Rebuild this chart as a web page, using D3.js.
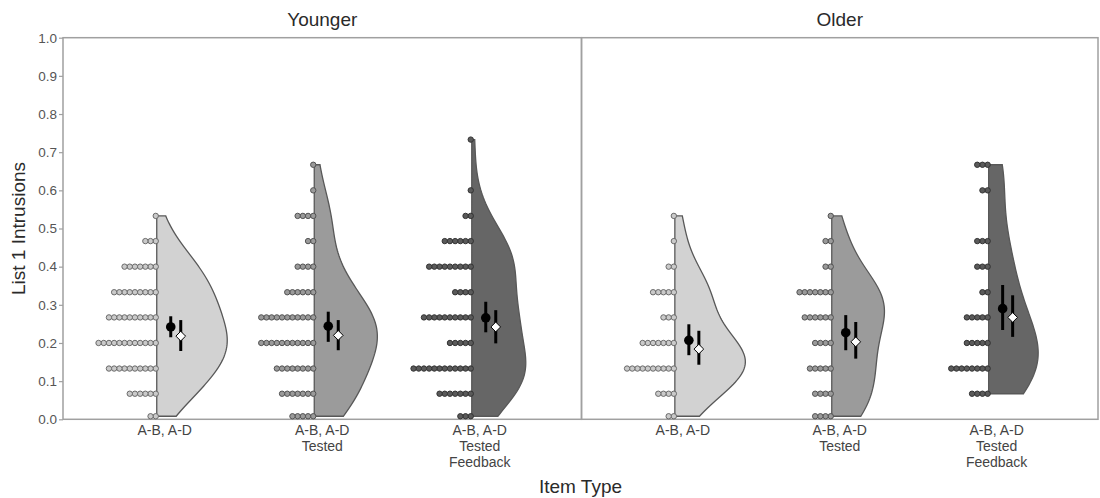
<!DOCTYPE html>
<html>
<head>
<meta charset="utf-8">
<script src="https://cdn.jsdelivr.net/npm/d3@7"></script>
<style>
  html, body { margin: 0; padding: 0; background: #fff; }
  svg { display: block; font-family: "Liberation Sans", Arial, sans-serif; }
</style>
</head>
<body>
<svg id="chart" width="1100" height="498"></svg>
<script>
// ---------- data ----------
const panels = ["Younger", "Older"];
const itemTypes = ["A-B, A-D", "A-B, A-D\nTested", "A-B, A-D\nTested\nFeedback"];
const yTicks = [0, 0.1, 0.2, 0.3, 0.4, 0.5, 0.6, 0.7, 0.8, 0.9, 1.0];

// score levels (proportion of list 1 intrusions)
const levels = [0.008, 0.067, 0.133, 0.2, 0.267, 0.333, 0.4, 0.467, 0.533, 0.6, 0.667, 0.733];

// number of participants at each level, per group
const youngerBasic    = [2, 6, 10, 12, 10, 9, 7, 3, 1, 0, 0, 0];
const youngerTested   = [5, 7, 8, 11, 11, 6, 4, 2, 4, 1, 1, 0];
const youngerFeedback = [3, 7, 12, 5, 10, 4, 9, 6, 2, 1, 0, 1];
const olderBasic      = [2, 4, 10, 7, 3, 5, 2, 1, 1, 0, 0, 0];
const olderTested     = [4, 4, 5, 4, 6, 7, 2, 2, 1, 0, 0, 0];
const olderFeedback   = [0, 4, 8, 5, 5, 2, 3, 3, 0, 2, 3, 0];

// summary statistics (black circle, white diamond) with intervals
const meanA = [0.242, 0.244, 0.266, 0.207, 0.227, 0.290];
const loA   = [0.215, 0.203, 0.228, 0.168, 0.181, 0.234];
const hiA   = [0.270, 0.282, 0.308, 0.249, 0.273, 0.352];
const meanB = [0.218, 0.220, 0.242, 0.184, 0.203, 0.267];
const loB   = [0.179, 0.181, 0.199, 0.143, 0.159, 0.216];
const hiB   = [0.260, 0.260, 0.286, 0.232, 0.255, 0.325];

// ---------- layout ----------
const svg = d3.select("#chart");
const plotTop = 37.7, plotBottom = 419.3;
const panelX = [63, 581.5, 1098];
const violinFill = ["#d2d2d2", "#9b9b9b", "#666666"];
const dotFill = ["#cacaca", "#9a9a9a", "#5a5a5a"];
const dotStroke = ["#6a6a6a", "#525252", "#333333"];

const y = d3.scaleLinear().domain([0, 1]).range([plotBottom, plotTop]);

const groups = [
  {panel: 0, type: 0, counts: youngerBasic},
  {panel: 0, type: 1, counts: youngerTested},
  {panel: 0, type: 2, counts: youngerFeedback},
  {panel: 1, type: 0, counts: olderBasic},
  {panel: 1, type: 1, counts: olderTested},
  {panel: 1, type: 2, counts: olderFeedback}
];

// kernel density (gaussian, Scott's rule), cut at data range
function kde(values) {
  const n = values.length;
  const sd = d3.deviation(values);
  const bw = sd * Math.pow(n, -0.2);
  const lo = d3.min(values), hi = d3.max(values);
  const grid = d3.range(101).map(i => lo + (hi - lo) * i / 100);
  return grid.map(v => {
    const s = d3.sum(values, d => Math.exp(-0.5 * ((v - d) / bw) ** 2));
    return {v, dens: s / (n * bw * Math.sqrt(2 * Math.PI))};
  });
}
groups.forEach(g => {
  g.values = [];
  g.counts.forEach((c, i) => { for (let k = 0; k < c; k++) g.values.push(levels[i]); });
  g.density = kde(g.values);
});
// width scale normalised within each panel (area scaling per facet)
const wScales = panels.map((p, pi) => {
  const m = d3.max(groups.filter(g => g.panel === pi), g => d3.max(g.density, d => d.dens));
  return d3.scaleLinear().domain([0, m]).range([0, 70.5]);
});

const xScales = panels.map((p, i) =>
  d3.scalePoint().domain(itemTypes).range([panelX[i], panelX[i + 1]]).padding(0.646));

// ---------- frames ----------
panels.forEach((p, i) => {
  svg.append("rect")
    .attr("x", panelX[i]).attr("y", plotTop)
    .attr("width", panelX[i + 1] - panelX[i]).attr("height", plotBottom - plotTop)
    .attr("fill", "none").attr("stroke", "#a0a0a0").attr("stroke-width", 1.5);
  svg.append("text")
    .attr("x", (panelX[i] + panelX[i + 1]) / 2).attr("y", 26)
    .attr("text-anchor", "middle").attr("font-size", 19).attr("fill", "#2a2a2a")
    .text(p);
});

// y axis
const yAxis = d3.axisLeft(y).tickValues(yTicks).tickFormat(d3.format(".1f")).tickSize(4).tickPadding(2);
const ya = svg.append("g").attr("transform", `translate(${panelX[0]},0)`).call(yAxis);
ya.select(".domain").remove();
ya.selectAll(".tick line").attr("stroke", "#a0a0a0").attr("stroke-width", 1.2);
ya.selectAll(".tick text").attr("font-size", 13.5).attr("fill", "#555")
  .attr("font-family", "Liberation Sans, Arial, sans-serif");

// x tick labels
panels.forEach((p, i) => {
  const g = svg.append("g");
  itemTypes.forEach(t => {
    const txt = g.append("text")
      .attr("x", xScales[i](t)).attr("y", 435)
      .attr("text-anchor", "middle").attr("font-size", 14).attr("fill", "#444");
    t.split("\n").forEach((line, k) => {
      txt.append("tspan").attr("x", xScales[i](t)).attr("dy", k === 0 ? 0 : 16).text(line);
    });
  });
});

// axis titles
svg.append("text")
  .attr("transform", `translate(25,${(plotTop + plotBottom) / 2}) rotate(-90)`)
  .attr("text-anchor", "middle").attr("font-size", 19).attr("fill", "#2a2a2a")
  .text("List 1 Intrusions");
svg.append("text")
  .attr("x", (panelX[0] + panelX[2]) / 2).attr("y", 493)
  .attr("text-anchor", "middle").attr("font-size", 19).attr("fill", "#2a2a2a")
  .text("Item Type");

// ---------- marks ----------
groups.forEach((g, gi) => {
  const cx = xScales[g.panel](itemTypes[g.type]);
  const base = cx - 8;
  const w = wScales[g.panel];
  const area = d3.area()
    .y(d => y(d.v))
    .x0(base)
    .x1(d => base + w(d.dens));
  svg.append("path")
    .datum(g.density)
    .attr("d", area)
    .attr("fill", violinFill[g.type])
    .attr("stroke", "#585858").attr("stroke-width", 1.3);

  // dot stacks
  const dots = [];
  g.counts.forEach((c, i) => { for (let k = 0; k < c; k++) dots.push({v: levels[i], k}); });
  svg.append("g").selectAll("circle").data(dots).join("circle")
    .attr("cx", d => base - 1 - d.k * 5.2)
    .attr("cy", d => y(d.v))
    .attr("r", 2.7)
    .attr("fill", dotFill[g.type])
    .attr("stroke", dotStroke[g.type]).attr("stroke-width", 1);

  // summary A: black circle
  const xa = cx + 6, xb = cx + 16;
  svg.append("line").attr("x1", xa).attr("x2", xa)
    .attr("y1", y(loA[gi])).attr("y2", y(hiA[gi]))
    .attr("stroke", "#000").attr("stroke-width", 3);
  svg.append("circle").attr("cx", xa).attr("cy", y(meanA[gi])).attr("r", 4.8).attr("fill", "#000");

  // summary B: white diamond
  svg.append("line").attr("x1", xb).attr("x2", xb)
    .attr("y1", y(loB[gi])).attr("y2", y(hiB[gi]))
    .attr("stroke", "#000").attr("stroke-width", 3);
  svg.append("path")
    .attr("d", d3.symbol().type(d3.symbolDiamond2).size(60)())
    .attr("transform", `translate(${xb},${y(meanB[gi])})`)
    .attr("fill", "#fff").attr("stroke", "#000").attr("stroke-width", 1);
});
</script>
</body>
</html>
